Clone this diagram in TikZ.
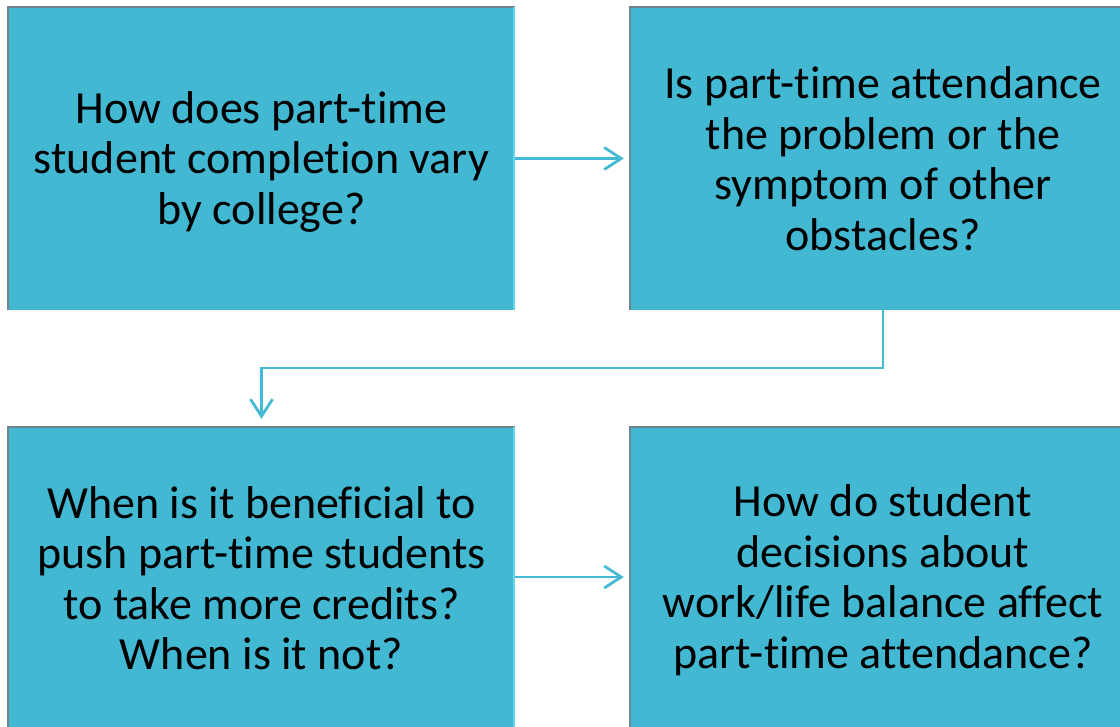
\documentclass[tikz,border=0pt]{standalone}
\usepackage{fontspec}
\setmainfont{Carlito}[Ligatures=NoCommon,RawFeature=-liga]
\usetikzlibrary{arrows.meta}
\definecolor{boxfill}{RGB}{66,184,210}
\definecolor{arrowc}{RGB}{69,186,213}
\definecolor{edgegray}{RGB}{110,132,138}
\definecolor{edgelight}{RGB}{100,216,236}
\tikzset{
  qbox/.style={fill=boxfill, inner sep=0pt, align=center, font=\fontsize{46}{50.5}\selectfont},
  flow/.style={draw=arrowc, line width=2.8pt, -{Straight Barb[length=17pt,width=22pt,line width=2.8pt]}}
}
\begin{document}
\begin{tikzpicture}[x=1pt,y=-1pt]
\useasboundingbox (0,0) rectangle (1120,727);
\begin{scope}
\clip (0,0) rectangle (1120,727);
% boxes
\node[qbox, minimum width=507pt, minimum height=303pt] (q1) at (261.5,158.5) {};
\node[qbox, minimum width=506pt, minimum height=303pt] (q2) at (883,158.5) {};
\node[qbox, minimum width=507pt, minimum height=300pt] (q3) at (261.5,577) {};
\node[qbox, minimum width=506pt, minimum height=300pt] (q4) at (883,577) {};
% texts
\node[qbox, fill=none] (t1) at ([yshift=-3pt]q1.center) {How does part-time\\student completion vary\\by college?};
\node[qbox, fill=none] (t2) at ([yshift=0pt]q2.center) {Is part-time attendance\\the problem or the\\symptom of other\\obstacles?};
\node[qbox, fill=none] (t3) at ([yshift=-1pt]q3.center) {When is it beneficial to\\push part-time students\\to take more credits?\\When is it not?};
\node[qbox, fill=none] (t4) at ([yshift=-3pt]q4.center) {How do student\\decisions about\\work/life balance affect\\part-time attendance?};
% edges of boxes
\foreach \b in {q1,q2,q3,q4}{
  \draw[edgegray, line width=2pt] (\b.south west) -- (\b.north west) -- (\b.north east);
}
\foreach \b in {q1,q3}{
  \draw[edgelight, line width=2pt] ([xshift=-1pt]\b.north east) -- ([xshift=-1pt]\b.south east);
}
% connectors
\draw[flow, shorten >=6pt] (q1.east) -- (q2.west);
\coordinate (bendR) at (q2.south |- 0,368);
\coordinate (bendL) at (q3.north |- 0,368);
\draw[flow, shorten >=8pt] (q2.south) -- (bendR) -- (bendL) -- (q3.north);
\draw[flow, shorten >=6pt] (q3.east) -- (q4.west);
\end{scope}
\end{tikzpicture}
\end{document}
